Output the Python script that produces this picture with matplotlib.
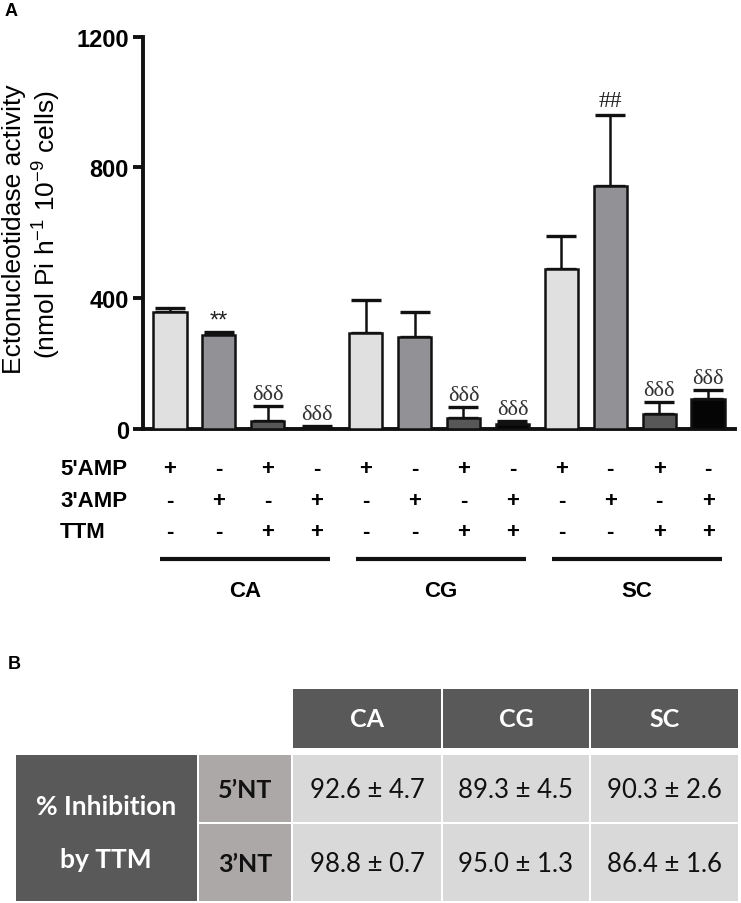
import matplotlib.pyplot as plt
from matplotlib.patches import Rectangle
from matplotlib import transforms

plt.rcParams['font.family'] = ['Liberation Sans', 'DejaVu Sans']
plt.rcParams['mathtext.fontset'] = 'custom'
plt.rcParams['mathtext.rm'] = 'Liberation Sans'
plt.rcParams['mathtext.it'] = 'Liberation Sans:italic'

# panel A data
values = [358, 287, 25, 4, 295, 280, 33, 15, 488, 742, 46, 92]
errors = [13, 11, 44, 4, 99, 79, 33, 8, 102, 219, 37, 28]
colors = ['#e0e0e0', '#929296', '#575757', '#050505'] * 3
marks = ['', '**', 'δδδ', 'δδδ', '', '', 'δδδ', 'δδδ', '', '##', 'δδδ', 'δδδ']

row_names = ["5'AMP", "3'AMP", "TTM"]
amp5 = ['+', '-', '+', '-', '+', '-', '+', '-', '+', '-', '+', '-']
amp3 = ['-', '+', '-', '+', '-', '+', '-', '+', '-', '+', '-', '+']
ttm = ['-', '-', '+', '+', '-', '-', '+', '+', '-', '-', '+', '+']
groups = ['CA', 'CG', 'SC']

# panel B data
tab_cols = ['CA', 'CG', 'SC']
tab_rows = ['5’NT', '3’NT']
tab_vals = [['92.6 ± 4.7', '89.3 ± 4.5', '90.3 ± 2.6'],
            ['98.8 ± 0.7', '95.0 ± 1.3', '86.4 ± 1.6']]

W, H = 741, 904
fig = plt.figure(figsize=(W / 100, H / 100), dpi=100)

# overlay in pixel coords for annotations and table
ov = fig.add_axes([0, 0, 1, 1])
ov.set_xlim(0, W)
ov.set_ylim(H, 0)
ov.axis('off')

ax = fig.add_axes([143 / W, 1 - 430 / H, (735 - 143) / W, (430 - 37.7) / H])
x = list(range(len(values)))
ax.bar(x, values, width=0.68, color=colors, edgecolor='#111111', linewidth=1.8, zorder=3)
ax.errorbar(x, values, yerr=[[0] * len(values), errors], fmt='none', ecolor='#111111',
            elinewidth=1.8, capsize=11, capthick=2.4, zorder=2)

for xi, v, e, m in zip(x, values, errors, marks):
    if not m:
        continue
    if m == 'δδδ':
        ax.annotate(m, (xi, v + e), xytext=(0, 1.5), textcoords='offset points',
                    ha='center', va='bottom', fontsize=16, color='#333333',
                    family='Liberation Serif')
    elif m == '##':
        ax.annotate(m, (xi, v + e), xytext=(0, 2.5), textcoords='offset points',
                    ha='center', va='bottom', fontsize=17, color='#222222',
                    family='Liberation Serif')
    else:
        ax.annotate(m, (xi, v + e), xytext=(0, 0), textcoords='offset points',
                    ha='center', va='bottom', fontsize=17, color='#222222')

ax.set_xlim(-0.55, 11.55)
ax.set_ylim(0, 1200)
ax.set_yticks([0, 400, 800, 1200])
ax.set_xticks([])
for s in ['top', 'right']:
    ax.spines[s].set_visible(False)
for s in ['left', 'bottom']:
    ax.spines[s].set_linewidth(2.8)
    ax.spines[s].set_color('#111111')
ax.tick_params(axis='y', length=7, width=2.8, color='#111111', pad=3)
for lab in ax.get_yticklabels():
    lab.set_fontsize(17)
    lab.set_fontweight('bold')

# y label, two lines
ov.text(14, 229, 'Ectonucleotidase activity', rotation=90, fontsize=19,
        ha='center', va='center')
ov.text(47, 225, '(nmol Pi h$^{-1}$ 10$^{-9}$ cells)', rotation=90, fontsize=19,
        ha='center', va='center')

# condition rows under the bars
tr = transforms.blended_transform_factory(ax.transData, ov.transData)
row_y = [470, 502, 533]
for name, signs, yy in zip(row_names, [amp5, amp3, ttm], row_y):
    ov.text(60, yy, name, fontsize=16, fontweight='bold', ha='left', va='center')
    for xi, sgn in zip(x, signs):
        ov.text(xi, yy, sgn, transform=tr, fontsize=16, fontweight='bold',
                ha='center', va='center')

for gi, g in enumerate(groups):
    first, last = gi * 4, gi * 4 + 3
    ov.plot([first - 0.2, last + 0.28], [560, 560], transform=tr, color='#111111',
            linewidth=3, solid_capstyle='butt')
    ov.text((first + last) / 2 + 0.04, 592, g, transform=tr, fontsize=16,
            fontweight='bold', ha='center', va='center')

ov.text(5, 12, 'A', fontsize=13, fontweight='bold', ha='left', va='center')
ov.text(8, 665, 'B', fontsize=13, fontweight='bold', ha='left', va='center')

# table B
tfont = ['Lato', 'DejaVu Sans']
col_x = [(293, 441), (443, 589), (591, 738)]
head_y = (690, 749)
row_yy = [(756, 823), (825, 902)]
dark = '#595959'
for (x0, x1), c in zip(col_x, tab_cols):
    ov.add_patch(Rectangle((x0, head_y[0]), x1 - x0, head_y[1] - head_y[0], color=dark, lw=0))
    ov.text((x0 + x1) / 2, sum(head_y) / 2, c, color='white', fontsize=18,
            fontweight='bold', ha='center', va='center', family=tfont)

ov.add_patch(Rectangle((16, 756), 197 - 16, 902 - 756, color=dark, lw=0))
ov.text(106, 807, '% Inhibition', color='white', fontsize=19, fontweight='bold',
        ha='center', va='center', family=tfont)
ov.text(106, 860, 'by TTM', color='white', fontsize=19, fontweight='bold',
        ha='center', va='center', family=tfont)

for (y0, y1), rname, rvals in zip(row_yy, tab_rows, tab_vals):
    ov.add_patch(Rectangle((199, y0), 291 - 199, y1 - y0, color='#aca8a7', lw=0))
    ov.text(245, (y0 + y1) / 2 + 1, rname, fontsize=18, fontweight='bold',
            ha='center', va='center', family=tfont, color='#111111')
    for (x0, x1), v in zip(col_x, rvals):
        ov.add_patch(Rectangle((x0, y0), x1 - x0, y1 - y0, color='#d9d9d9', lw=0))
        ov.text((x0 + x1) / 2, (y0 + y1) / 2 + 1, v, fontsize=18.5, ha='center',
                va='center', family=tfont, color='#111111')

fig.savefig('out.png', dpi=100)
